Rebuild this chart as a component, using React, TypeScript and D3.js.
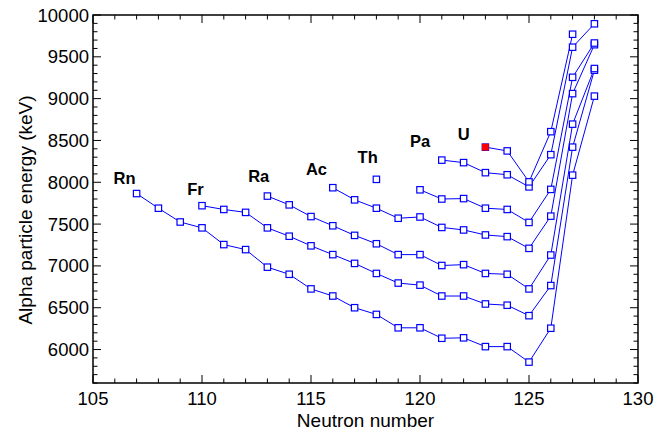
import React from "react";
import * as d3 from "d3";

// Alpha-decay energies (keV) by neutron number, one chain per element.
type Pt = [number, number | null];

const rn: Pt[] = [
  [107, 7865], [108, 7690], [109, 7525], [110, 7455], [111, 7255], [112, 7195],
  [113, 6985], [114, 6900], [115, 6725], [116, 6640], [117, 6500], [118, 6420],
  [119, 6260], [120, 6260], [121, 6135], [122, 6140], [123, 6035], [124, 6035],
  [125, 5850], [126, 6255], [127, 8085], [128, 9030],
];
const fr: Pt[] = [
  [110, 7720], [111, 7675], [112, 7640], [113, 7455], [114, 7355], [115, 7240],
  [116, 7135], [117, 7030], [118, 6910], [119, 6795], [120, 6770], [121, 6640],
  [122, 6640], [123, 6545], [124, 6530], [125, 6405], [126, 6765], [127, 8420],
  [128, 9340],
];
const ra: Pt[] = [
  [113, 7835], [114, 7730], [115, 7590], [116, 7480], [117, 7365], [118, 7265],
  [119, 7135], [120, 7135], [121, 7005], [122, 7015], [123, 6910], [124, 6900],
  [125, 6725], [126, 7130], [127, 8695], [128, 9360],
];
const ac: Pt[] = [
  [116, 7935], [117, 7790], [118, 7690], [119, 7570], [120, 7585], [121, 7460],
  [122, 7430], [123, 7370], [124, 7350], [125, 7210], [126, 7595], [127, 9060],
  [128, 9645],
];
const th: Pt[] = [
  [118, 8035], [119, null], [120, 7910], [121, 7800], [122, 7805], [123, 7690],
  [124, 7675], [125, 7520], [126, 7915], [127, 9255], [128, 9665],
];
const pa: Pt[] = [
  [121, 8265], [122, 8235], [123, 8115], [124, 8090], [125, 7945], [126, 8330],
  [127, 9615], [128, 9895],
];
const u: Pt[] = [
  [123, 8420], [124, 8375], [125, 8005], [126, 8605], [127, 9770],
];

// Highlighted measurement (filled marker)
const highlight: [number, number] = [123, 8420];

const chains = [rn, fr, ra, ac, th, pa, u];

// Element names and where each name sits (neutron number, energy)
const elementNames = ["Rn", "Fr", "Ra", "Ac", "Th", "Pa", "U"];
const nameN = [106.45, 109.7, 112.6, 115.25, 117.6, 120.0, 122.0];
const nameE = [8046, 7916, 8074, 8163, 8306, 8492, 8579];

const xTicks = [105, 110, 115, 120, 125, 130];
const yTicks = [6000, 6500, 7000, 7500, 8000, 8500, 9000, 9500, 10000];

const W = 667;
const H = 432;
const M = { left: 93, right: 638, top: 15, bottom: 383 };
const FONT = "'Liberation Sans', Arial, Helvetica, sans-serif";
const BLUE = "#0000ff";

export default function App() {
  const x = d3.scaleLinear().domain([105, 130]).range([M.left, M.right]);
  const y = d3.scaleLinear().domain([5600, 10000]).range([M.bottom, M.top]);

  const line = d3
    .line<Pt>()
    .defined((d) => d[1] !== null)
    .x((d) => x(d[0]))
    .y((d) => y(d[1] as number));

  const xMinor = d3.range(105, 131, 1);
  const yMinor = d3.range(5600, 10001, 100);
  const major = 8;
  const minor = 4.5;
  const sq = 6.4;

  return (
    <svg
      width={W}
      height={H}
      style={{ position: "absolute", left: 0, top: 0, background: "#fff" }}
      fontFamily={FONT}
    >
      {/* ticks, all pointing inward on four sides */}
      <g stroke="#000" strokeWidth={1}>
        {xMinor.map((v) => {
          const len = v % 5 === 0 ? major : minor;
          return (
            <g key={"xt" + v}>
              <line x1={x(v)} x2={x(v)} y1={M.bottom} y2={M.bottom - len} />
              <line x1={x(v)} x2={x(v)} y1={M.top} y2={M.top + len} />
            </g>
          );
        })}
        {yMinor.map((v) => {
          const len = v % 500 === 0 ? major : minor;
          return (
            <g key={"yt" + v}>
              <line x1={M.left} x2={M.left + len} y1={y(v)} y2={y(v)} />
              <line x1={M.right} x2={M.right - len} y1={y(v)} y2={y(v)} />
            </g>
          );
        })}
      </g>

      {/* connecting lines */}
      {chains.map((c, i) => (
        <path key={"l" + i} d={line(c) || ""} fill="none" stroke={BLUE} strokeWidth={1} />
      ))}

      {/* open square markers */}
      {chains.map((c, i) =>
        c
          .filter((d) => d[1] !== null)
          .map((d) => (
            <rect
              key={"m" + i + "-" + d[0]}
              x={x(d[0]) - sq / 2}
              y={y(d[1] as number) - sq / 2}
              width={sq}
              height={sq}
              fill="#fff"
              stroke={BLUE}
              strokeWidth={1.2}
            />
          ))
      )}

      <rect
        x={x(highlight[0]) - 3.4}
        y={y(highlight[1]) - 3.4}
        width={6.8}
        height={6.8}
        fill="#ff0000"
      />

      {/* element names */}
      {elementNames.map((n, i) => (
        <text
          key={n}
          x={x(nameN[i])}
          y={y(nameE[i])}
          textAnchor="middle"
          dominantBaseline="central"
          fontSize={16.5}
          fontWeight="bold"
          fill="#000"
        >
          {n}
        </text>
      ))}

      {/* frame */}
      <rect
        x={M.left}
        y={M.top}
        width={M.right - M.left}
        height={M.bottom - M.top}
        fill="none"
        stroke="#000"
        strokeWidth={1.5}
      />

      {/* tick labels */}
      {xTicks.map((v) => (
        <text key={"xl" + v} x={x(v)} y={M.bottom + 22} textAnchor="middle" fontSize={18.5} fill="#000">
          {v}
        </text>
      ))}
      {yTicks.map((v) => (
        <text
          key={"yl" + v}
          x={M.left - 4}
          y={y(v)}
          textAnchor="end"
          dominantBaseline="central"
          fontSize={18.5}
          fill="#000"
        >
          {v}
        </text>
      ))}

      {/* axis titles */}
      <text x={(M.left + M.right) / 2} y={427} textAnchor="middle" fontSize={19} fill="#000">
        Neutron number
      </text>
      <text
        transform={`translate(25, 210) rotate(-90)`}
        textAnchor="middle"
        dominantBaseline="central"
        fontSize={19}
        fill="#000"
      >
        Alpha particle energy (keV)
      </text>
    </svg>
  );
}
